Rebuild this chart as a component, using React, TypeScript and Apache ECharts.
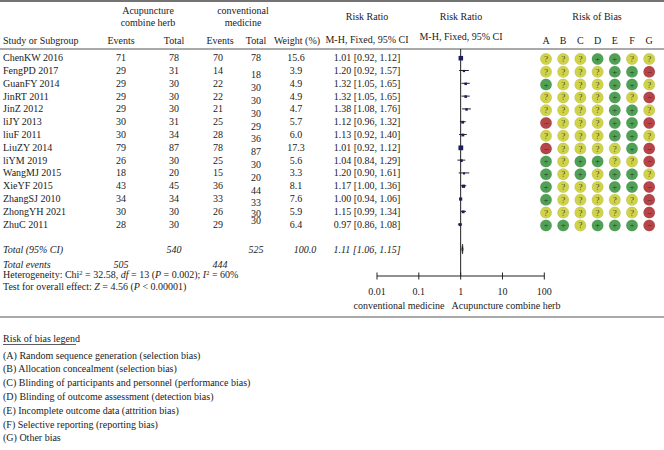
import React, { useEffect, useRef } from "react";
import * as echarts from "echarts";

const studies = [
  "ChenKW 2016", "FengPD 2017", "GuanFY 2014", "JinRT 2011", "JinZ 2012", "liJY 2013", "liuF 2011",
  "LiuZY 2014", "liYM 2019", "WangMJ 2015", "XieYF 2015", "ZhangSJ 2010", "ZhongYH 2021", "ZhuC 2011",
];
const acupEvents = [71, 29, 29, 29, 29, 30, 30, 79, 26, 18, 43, 34, 30, 28];
const acupTotal = [78, 31, 30, 30, 30, 31, 34, 87, 30, 20, 45, 34, 30, 30];
const convEvents = [70, 14, 22, 22, 21, 25, 28, 78, 25, 15, 36, 33, 26, 29];
const convTotal = [78, 18, 30, 30, 30, 29, 36, 87, 30, 20, 44, 33, 30, 30];
const weights = [15.6, 3.9, 4.9, 4.9, 4.7, 5.7, 6.0, 17.3, 5.6, 3.3, 8.1, 7.6, 5.9, 6.4];
const riskRatio = [1.01, 1.2, 1.32, 1.32, 1.38, 1.12, 1.13, 1.01, 1.04, 1.2, 1.17, 1.0, 1.15, 0.97];
const ciLow = [0.92, 0.92, 1.05, 1.05, 1.08, 0.96, 0.92, 0.92, 0.84, 0.9, 1.0, 0.94, 0.99, 0.86];
const ciHigh = [1.12, 1.57, 1.65, 1.65, 1.76, 1.32, 1.4, 1.12, 1.29, 1.61, 1.36, 1.06, 1.34, 1.08];

const totalAcup = 540;
const totalConv = 525;
const totalWeight = "100.0";
const pooled = [1.11, 1.06, 1.15];
const totalEventsAcup = 505;
const totalEventsConv = 444;

const tickValues = [0.01, 0.1, 1, 10, 100];
const tickLabels = ["0.01", "0.1", "1", "10", "100"];

const robDomains = ["A", "B", "C", "D", "E", "F", "G"];
const robJudgements = [
  "???++??", "????++-", "+???++?", "????+?-", "????++?", "-???++-", "????++?",
  "-????+-", "+?++??-", "+?+?++?", "+???++-", "+?????-", "??????-", "++?+++-",
];
const legendItems = [
  "(A) Random sequence generation (selection bias)",
  "(B) Allocation concealment (selection bias)",
  "(C) Blinding of participants and personnel (performance bias)",
  "(D) Blinding of outcome assessment (detection bias)",
  "(E) Incomplete outcome data (attrition bias)",
  "(F) Selective reporting (reporting bias)",
  "(G) Other bias",
];

const FF = '"Liberation Serif", "DejaVu Serif", serif';
const FS = 10;
const INK = "#222";

export default function App() {
  const ref = useRef<HTMLDivElement>(null);
  useEffect(() => {
    if (!ref.current) return;
    const chart = echarts.init(ref.current, null, { renderer: "svg" });

    const rowY = (i: number) => 57.7 + 12.8 * i;
    const T = (text: string, x: number, y: number, o: any = {}) => ({
      type: "text",
      x,
      y,
      silent: true,
      style: {
        text,
        fontSize: o.fs || FS,
        fontFamily: FF,
        fontStyle: o.italic ? "italic" : "normal",
        fill: INK,
        align: o.align || "center",
        verticalAlign: "middle",
      },
    });
    const L = (x1: number, y1: number, x2: number, y2: number, w = 1, c = "#555") => ({
      type: "line",
      silent: true,
      shape: { x1, y1, x2, y2 },
      style: { stroke: c, lineWidth: w },
    });

    const g: any[] = [];
    g.push(L(0, 1, 664, 1, 1.5, "#444"));
    g.push(L(0, 49, 664, 49, 1, "#555"));
    g.push(L(0, 317, 664, 317, 1.2, "#555"));

    // headers
    g.push(T("Acupuncture", 148, 10));
    g.push(T("combine herb", 148, 22.7));
    g.push(T("conventional", 243, 10));
    g.push(T("medicine", 243, 22.7));
    g.push(T("Study or Subgroup", 3, 40, { align: "left" }));
    g.push(T("Events", 121, 40));
    g.push(T("Total", 174, 40));
    g.push(T("Events", 220, 40));
    g.push(T("Total", 256, 40));
    g.push(T("Weight (%)", 297, 40));
    g.push(T("Risk Ratio", 367, 16));
    g.push(T("M-H, Fixed, 95% CI", 367, 39.5));
    g.push(T("Risk Ratio", 461, 16));
    g.push(T("M-H, Fixed, 95% CI", 461, 36.5));
    g.push(T("Risk of Bias", 597, 16));

    const last = studies.length - 1;
    studies.forEach((s, i) => {
      const y = rowY(i);
      g.push(T(s, 3, y, { align: "left" }));
      g.push(T(String(acupEvents[i]), 121, y));
      g.push(T(String(acupTotal[i]), 174, y));
      g.push(T(String(convEvents[i]), 218, y));
      const off = i === 0 ? 0 : i === last ? -3.6 : i === last - 1 ? 2.6 : 4.3;
      g.push(T(String(convTotal[i]), 256, y + off));
      g.push(T(weights[i].toFixed(1), 296, y));
      g.push(T(`${riskRatio[i].toFixed(2)} [${ciLow[i].toFixed(2)}, ${ciHigh[i].toFixed(2)}]`, 367, y));
    });

    g.push(T("Total (95% CI)", 3, 249, { align: "left", italic: true }));
    g.push(T(String(totalAcup), 174, 249, { italic: true }));
    g.push(T(String(totalConv), 256, 249, { italic: true }));
    g.push(T(totalWeight, 305, 249, { italic: true }));
    g.push(T(`${pooled[0].toFixed(2)} [${pooled[1].toFixed(2)}, ${pooled[2].toFixed(2)}]`, 367, 249, { italic: true }));
    g.push(T("Total events", 3, 264.3, { align: "left", italic: true }));
    g.push(T(String(totalEventsAcup), 121, 264.3, { italic: true }));
    g.push(T(String(totalEventsConv), 220, 264.3, { italic: true }));

    const rich = {
      s: { fontSize: 6.5, fontFamily: FF, fill: INK, verticalAlign: "top", lineHeight: 12 },
      i: { fontSize: FS, fontFamily: FF, fill: INK, fontStyle: "italic", lineHeight: 12 },
      n: { fontSize: FS, fontFamily: FF, fill: INK, lineHeight: 12 },
    };
    g.push({
      type: "text",
      x: 3,
      y: 274.8,
      silent: true,
      style: {
        text: "{n|Heterogeneity: Chi}{s|2}{n| = 32.58, }{i|df}{n| = 13 (}{i|P}{n| = 0.002); }{i|I}{s|2}{n| = 60%}",
        rich,
        fontSize: FS,
        fontFamily: FF,
        fill: INK,
        align: "left",
        verticalAlign: "middle",
      },
    });
    g.push({
      type: "text",
      x: 3,
      y: 286.5,
      silent: true,
      style: {
        text: "{n|Test for overall effect: }{i|Z}{n| = 4.56 (}{i|P}{n| < 0.00001)}",
        rich,
        fontSize: FS,
        fontFamily: FF,
        fill: INK,
        align: "left",
        verticalAlign: "middle",
      },
    });

    g.push(T("conventional medicine", 399, 305));
    g.push(T("Acupuncture combine herb", 506, 305));

    robDomains.forEach((d, j) => g.push(T(d, 546 + 17.2 * j, 40)));

    g.push(T("Risk of bias legend", 3, 338, { align: "left" }));
    g.push(L(3, 344.5, 76, 344.5, 0.8, "#333"));
    legendItems.forEach((t, k) => g.push(T(t, 3, 355 + 13.8 * k, { align: "left" })));

    const robColor: Record<string, string> = { "?": "#c3c81d", "+": "#24892c", "-": "#a3171b" };
    const robData: any[] = [];
    studies.forEach((s, i) => {
      robDomains.forEach((d, j) => {
        const v = robJudgements[i][j];
        robData.push({ value: [d, s, v], itemStyle: { color: robColor[v] } });
      });
    });

    const yMin = -0.68;
    const yMax = 17.05;
    const forestData = studies.map((s, i) => [riskRatio[i], i, ciLow[i], ciHigh[i], weights[i]]);
    const totalRowValue = (249 - 49) / 12.8 + yMin;

    chart.setOption({
      animation: false,
      backgroundColor: "#fff",
      grid: [
        { left: 377, width: 167.3, top: 49, height: 227 },
        { left: 537.4, width: 120.4, top: 52.6, height: 179.2 },
      ],
      xAxis: [
        {
          gridIndex: 0,
          type: "log",
          logBase: 10,
          min: 0.01,
          max: 100,
          splitLine: { show: false },
          axisLine: { show: false, onZero: false },
          axisTick: { show: false },
          axisLabel: {
            margin: 10,
            fontSize: FS,
            fontFamily: FF,
            color: INK,
            formatter: (v: number) => {
              const k = tickValues.findIndex((t) => Math.abs(Math.log10(t) - Math.log10(v)) < 1e-6);
              return k >= 0 ? tickLabels[k] : "";
            },
          },
        },
        { gridIndex: 1, type: "category", data: robDomains, show: false },
      ],
      yAxis: [
        { gridIndex: 0, type: "value", min: yMin, max: yMax, inverse: true, show: false },
        { gridIndex: 1, type: "category", data: studies, inverse: true, show: false },
      ],
      series: [
        {
          // null line at RR = 1
          type: "custom",
          xAxisIndex: 0,
          yAxisIndex: 0,
          clip: false,
          silent: true,
          data: [[1, yMin, yMax]],
          encode: { x: 0, y: 1 },
          renderItem: (params: any, api: any) => {
            const a = api.coord([api.value(0), api.value(1)]);
            const b = api.coord([api.value(0), api.value(2)]);
            return { type: "line", shape: { x1: a[0], y1: a[1], x2: b[0], y2: b[1] }, style: { stroke: INK, lineWidth: 1 } };
          },
        },
        {
          // x axis line and crossing ticks
          type: "custom",
          xAxisIndex: 0,
          yAxisIndex: 0,
          clip: false,
          silent: true,
          data: tickValues.map((t) => [t, yMax]),
          encode: { x: 0, y: 1 },
          renderItem: (params: any, api: any) => {
            const p = api.coord([api.value(0), api.value(1)]);
            const children: any[] = [
              { type: "line", shape: { x1: p[0], y1: p[1] - 3.5, x2: p[0], y2: p[1] + 3.5 }, style: { stroke: INK, lineWidth: 1 } },
            ];
            if (params.dataIndex === 0) {
              const e = api.coord([tickValues[tickValues.length - 1], api.value(1)]);
              children.push({ type: "line", shape: { x1: p[0], y1: p[1], x2: e[0], y2: e[1] }, style: { stroke: INK, lineWidth: 1 } });
            }
            return { type: "group", children };
          },
        },
        {
          type: "custom",
          xAxisIndex: 0,
          yAxisIndex: 0,
          clip: false,
          silent: true,
          data: forestData,
          encode: { x: 0, y: 1 },
          renderItem: (params: any, api: any) => {
            const c = api.coord([api.value(0), api.value(1)]);
            const l = api.coord([api.value(2), api.value(1)]);
            const h = api.coord([api.value(3), api.value(1)]);
            const sz = Math.sqrt(api.value(4)) * 1.15;
            return {
              type: "group",
              children: [
                { type: "line", shape: { x1: l[0], y1: c[1], x2: h[0], y2: c[1] }, style: { stroke: "#222", lineWidth: 1 } },
                { type: "rect", shape: { x: c[0] - sz / 2, y: c[1] - sz / 2 + 0.5, width: sz, height: sz }, style: { fill: "#1d1d5e" } },
              ],
            };
          },
        },
        {
          type: "custom",
          xAxisIndex: 0,
          yAxisIndex: 0,
          clip: false,
          silent: true,
          data: [[pooled[0], totalRowValue, pooled[1], pooled[2]]],
          encode: { x: 0, y: 1 },
          renderItem: (params: any, api: any) => {
            const c = api.coord([api.value(0), api.value(1)]);
            const l = api.coord([api.value(2), api.value(1)]);
            const h = api.coord([api.value(3), api.value(1)]);
            return {
              type: "polygon",
              shape: { points: [[l[0], c[1]], [c[0], c[1] - 5], [h[0], c[1]], [c[0], c[1] + 5]] },
              style: { fill: "#222", stroke: "#222", lineWidth: 0.6 },
            };
          },
        },
        {
          type: "scatter",
          xAxisIndex: 1,
          yAxisIndex: 1,
          symbolSize: 11.5,
          data: robData,
          itemStyle: { borderColor: "rgba(0,0,0,0.15)", borderWidth: 0.5 },
          label: {
            show: true,
            position: "inside",
            formatter: (p: any) => (p.value[2] === "-" ? "\u2212" : p.value[2]),
            fontSize: 9,
            fontFamily: FF,
            color: "#1a1a1a",
          },
          silent: true,
        },
      ],
      graphic: g,
    });

    return () => chart.dispose();
  }, []);

  return <div ref={ref} style={{ position: "fixed", left: 0, top: 0, width: 664, height: 450 }} />;
}
